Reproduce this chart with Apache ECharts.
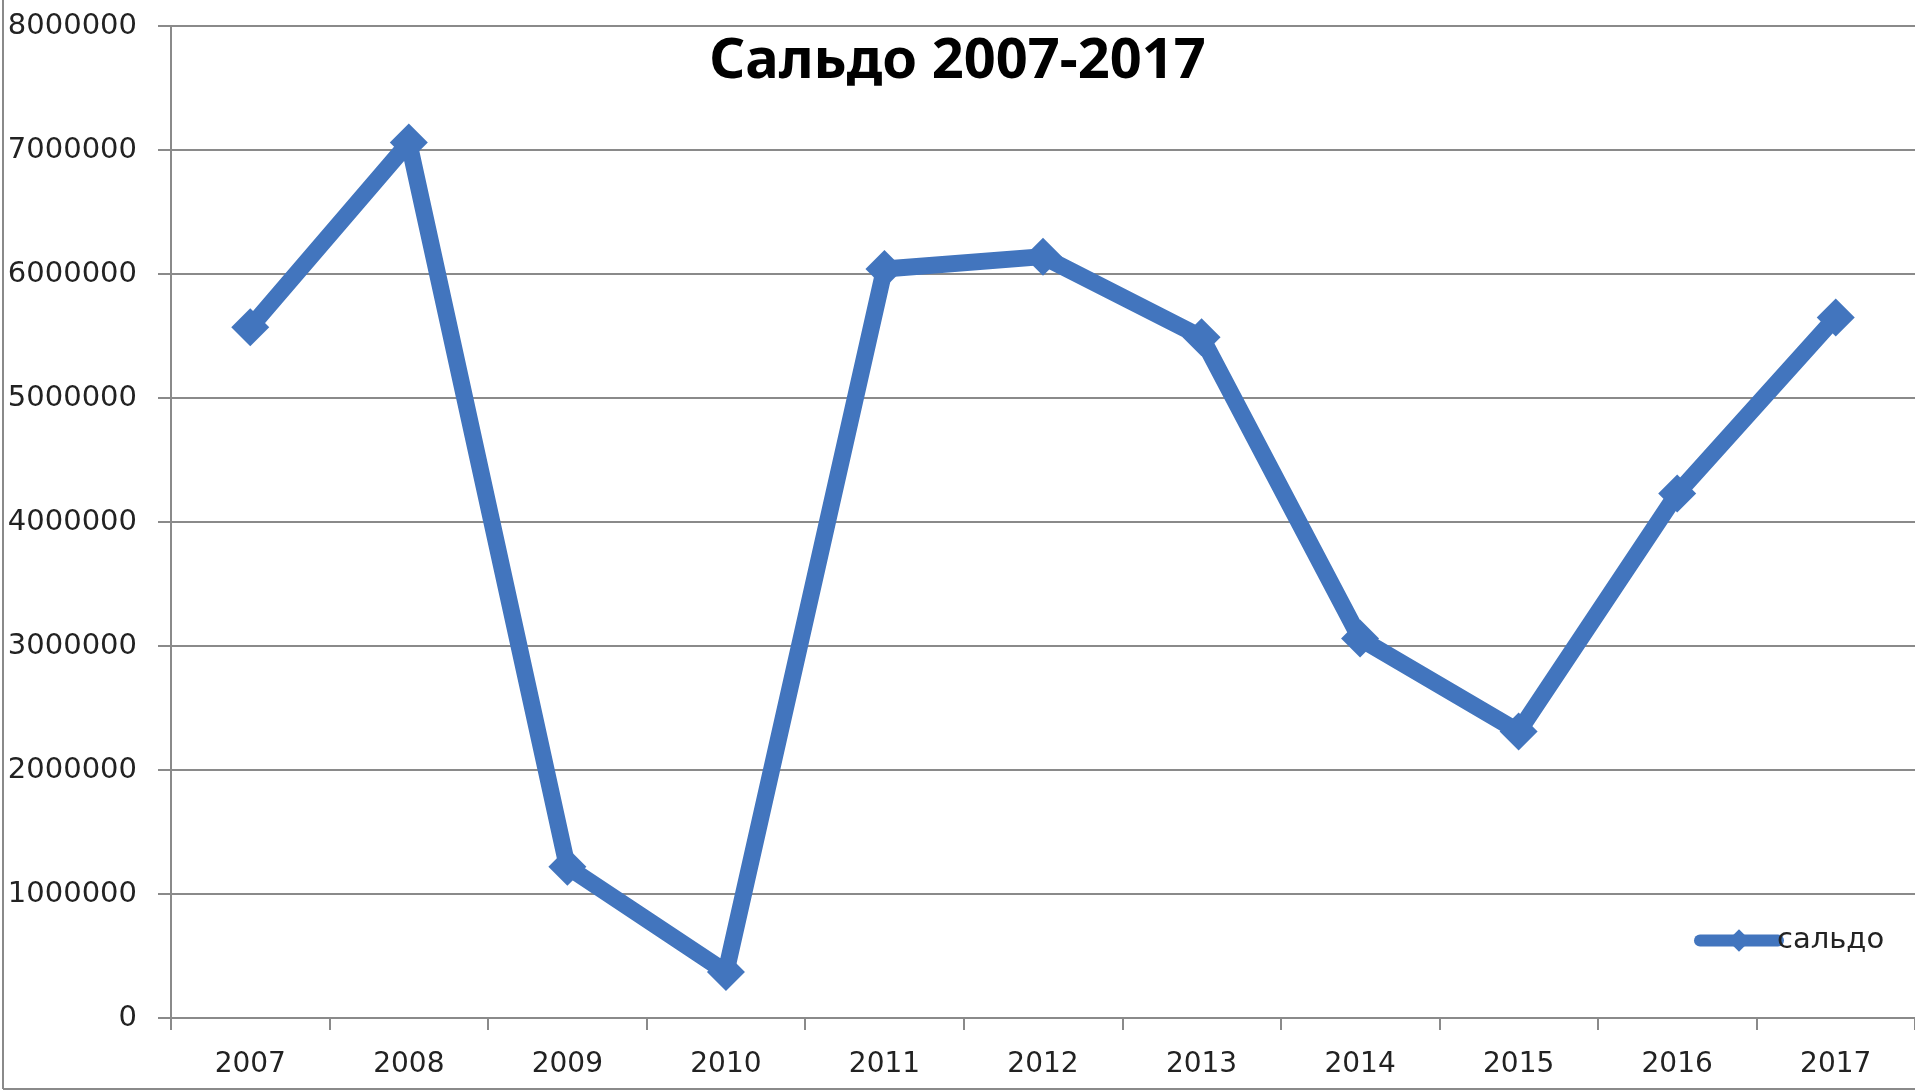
<!DOCTYPE html>
<html>
<head>
<meta charset="utf-8">
<script src="https://cdn.jsdelivr.net/npm/echarts@6/dist/echarts.min.js"></script>
<style>
  html, body { margin: 0; padding: 0; background: #fff; overflow: hidden; }
  #main { width: 1915px; height: 1092px; }
</style>
</head>
<body>
<div id="main"></div>
<script>
// данные графика
var years = ['2007', '2008', '2009', '2010', '2011', '2012', '2013', '2014', '2015', '2016', '2017'];
var saldo = [5570000, 7060000, 1220000, 370000, 6040000, 6140000, 5490000, 3060000, 2310000, 4230000, 5650000];
var seriesName = 'сальдо';
var chartTitle = 'Сальдо 2007-2017';

var gray = '#8a8a8a';
var blue = '#4275be';

var myChart = echarts.init(document.getElementById('main'));

var option = {
    animation: false,
    // рамка области диаграммы
    graphic: [
        { type: 'line', shape: { x1: 3, y1: 0, x2: 3, y2: 1089 }, style: { stroke: gray, lineWidth: 2 } },
        { type: 'line', shape: { x1: 3, y1: 1089, x2: 1915, y2: 1089 }, style: { stroke: gray, lineWidth: 2 } }
    ],
    title: {
        text: chartTitle,
        left: 'center',
        top: 28,
        textStyle: {
            fontFamily: 'Noto Sans',
            fontWeight: 'bold',
            fontSize: 56,
            lineHeight: 58,
            color: '#000'
        }
    },
    legend: {
        data: [seriesName],
        left: 1689,
        top: 921,
        itemWidth: 78,
        itemHeight: 28,
        itemGap: 0,
        lineStyle: { width: 12, cap: 'round' },
        textStyle: {
            fontFamily: 'DejaVu Sans',
            fontSize: 29,
            color: '#222',
            padding: [0, 0, 0, -6]
        }
    },
    grid: {
        left: 171,
        right: 0,
        top: 26,
        bottom: 74,
        outerBoundsMode: 'none'
    },
    xAxis: {
        type: 'category',
        data: years,
        boundaryGap: true,
        axisLine: { lineStyle: { color: gray, width: 2 } },
        axisTick: { show: true, interval: 0, length: 12, lineStyle: { color: gray, width: 2 } },
        axisLabel: {
            interval: 0,
            margin: 33,
            fontFamily: 'DejaVu Sans',
            fontSize: 28,
            color: '#222'
        },
        splitLine: { show: false }
    },
    yAxis: {
        type: 'value',
        min: 0,
        max: 8000000,
        interval: 1000000,
        axisLine: { show: true, lineStyle: { color: gray, width: 2 } },
        axisTick: { show: true, length: 13, lineStyle: { color: gray, width: 2 } },
        axisLabel: {
            margin: 34,
            fontFamily: 'DejaVu Sans',
            fontSize: 29,
            color: '#222',
            formatter: function (v) { return String(v); }
        },
        splitLine: { show: true, lineStyle: { color: gray, width: 2 } }
    },
    series: [
        {
            name: seriesName,
            type: 'line',
            data: saldo,
            symbol: 'diamond',
            symbolSize: 38,
            showAllSymbol: true,
            lineStyle: { color: blue, width: 17 },
            itemStyle: { color: blue },
            emphasis: { disabled: true }
        }
    ]
};

myChart.setOption(option);
</script>
</body>
</html>
